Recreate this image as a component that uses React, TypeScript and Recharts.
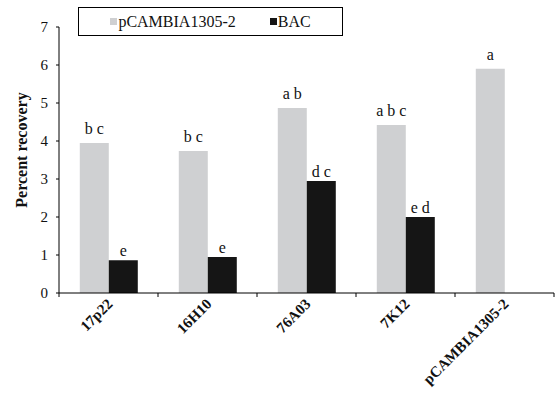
import React from 'react';
import { BarChart, Bar, XAxis, YAxis, LabelList } from 'recharts';

const categories = ['17p22', '16H10', '76A03', '7K12', 'pCAMBIA1305-2'];
const pcambiaValues = [3.95, 3.74, 4.87, 4.42, 5.9];
const bacValues: (number | null)[] = [0.86, 0.95, 2.95, 2.0, null];
const pcambiaLetters = ['b c', 'b c', 'a b', 'a b c', 'a'];
const bacLetters = ['e', 'e', 'd c', 'e d', ''];
const yTicks = [0, 1, 2, 3, 4, 5, 6, 7];
const seriesNames = ['pCAMBIA1305-2', 'BAC'];

const data = categories.map((name, i) => ({
  name,
  pcambia: pcambiaValues[i],
  bac: bacValues[i],
  pLetter: pcambiaLetters[i],
  bLetter: bacLetters[i],
}));

const SERIF = "'Liberation Serif', 'Times New Roman', serif";
const GRAY = '#cfd0d2';
const BLACK = '#151515';
const seriesColors = [GRAY, BLACK];

const XTick = (props: any) => {
  const { x, y, payload, index } = props;
  const half = payload?.offset ?? 0;
  const last = index === categories.length - 1;
  const ax = x + 5;
  const ay = y + 12;
  return (
    <g>
      <line x1={x - half} x2={x - half} y1={y} y2={y + 4} stroke="#000" />
      {last && <line x1={x + half} x2={x + half} y1={y} y2={y + 4} stroke="#000" />}
      <text
        x={ax}
        y={ay}
        textAnchor="end"
        transform={`rotate(-45, ${ax}, ${ay})`}
        style={{ fontFamily: SERIF, fontWeight: 'bold', fontSize: 15 }}
        fill="#111"
      >
        {payload.value}
      </text>
    </g>
  );
};

const makeTopLabel = (gap: number) => (props: any) => {
  const { x, y, width, value } = props;
  if (!value) return null;
  return (
    <text
      x={x + width / 2}
      y={y - gap}
      textAnchor="middle"
      style={{ fontFamily: SERIF, fontSize: 16 }}
      fill="#111"
    >
      {value}
    </text>
  );
};

const YLabel = (props: any) => {
  const vb = props.viewBox || { x: 0, y: 0, width: 0, height: 0 };
  const cx = vb.x + 21;
  const cy = vb.y + vb.height / 2 - 10;
  return (
    <text
      x={cx}
      y={cy}
      textAnchor="middle"
      dominantBaseline="central"
      transform={`rotate(-90, ${cx}, ${cy})`}
      style={{ fontFamily: SERIF, fontWeight: 'bold', fontSize: 16 }}
      fill="#111"
    >
      Percent recovery
    </text>
  );
};

export default function App() {
  return (
    <div style={{ position: 'absolute', left: 0, top: 0, width: 555, height: 408, background: '#fff' }}>
      <BarChart
        width={555}
        height={408}
        data={data}
        margin={{ top: 27, right: 1, left: 0, bottom: 0 }}
        barGap={0}
        barCategoryGap="21%"
      >
        <XAxis
          dataKey="name"
          height={115}
          axisLine={{ stroke: '#000' }}
          tickLine={false}
          tickSize={0}
          tickMargin={0}
          interval={0}
          tick={<XTick />}
        />
        <YAxis
          width={59}
          domain={[0, 7]}
          ticks={yTicks}
          axisLine={{ stroke: '#000' }}
          tickLine={{ stroke: '#000' }}
          tickSize={3}
          tickMargin={8}
          tick={{ fill: '#111', fontSize: 15, fontFamily: SERIF }}
          label={<YLabel />}
        />
        <Bar dataKey="pcambia" name={seriesNames[0]} fill={GRAY} isAnimationActive={false}>
          <LabelList dataKey="pLetter" content={makeTopLabel(9)} />
        </Bar>
        <Bar dataKey="bac" name={seriesNames[1]} fill={BLACK} isAnimationActive={false}>
          <LabelList dataKey="bLetter" content={makeTopLabel(4)} />
        </Bar>
      </BarChart>
      <div
        style={{
          position: 'absolute',
          left: 78,
          top: 7,
          width: 263,
          height: 27,
          border: '1px solid #000',
          display: 'flex',
          alignItems: 'center',
          justifyContent: 'center',
          gap: 34,
          fontFamily: SERIF,
          fontSize: 16,
          color: '#111',
          background: '#fff',
        }}
      >
        {seriesNames.map((n, i) => (
          <span key={n} style={{ display: 'flex', alignItems: 'center' }}>
            <span style={{ width: 7, height: 7, background: seriesColors[i], marginRight: 1, display: 'inline-block' }} />
            {n}
          </span>
        ))}
      </div>
    </div>
  );
}
